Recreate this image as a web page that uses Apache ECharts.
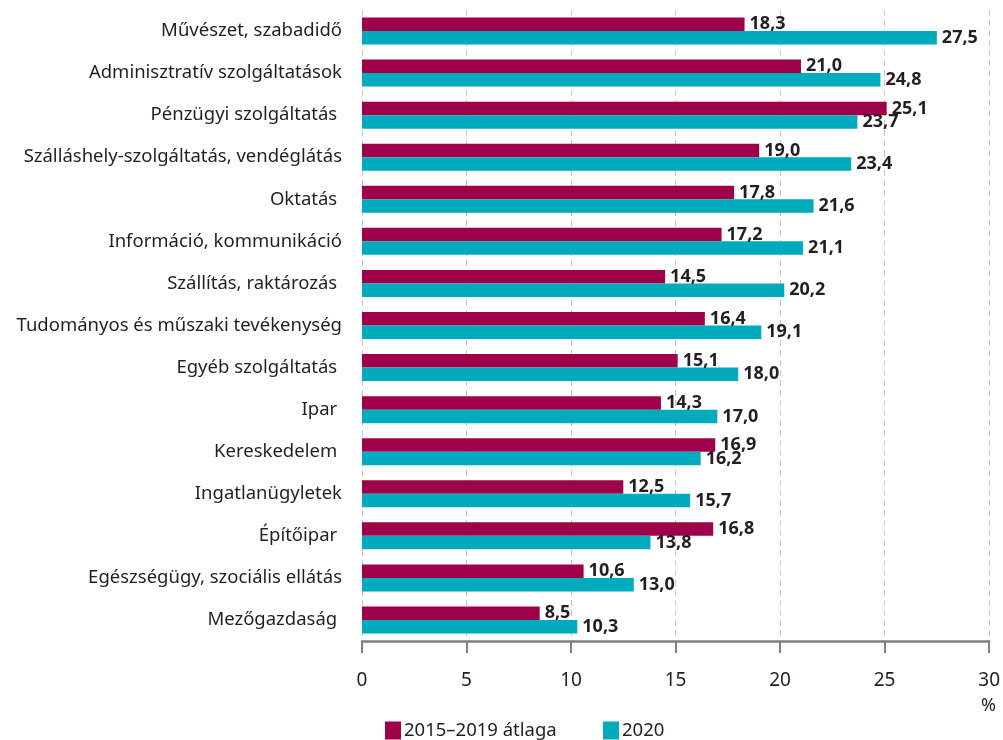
<!DOCTYPE html>
<html>
<head>
<meta charset="utf-8">
<script src="https://cdn.jsdelivr.net/npm/echarts@6/dist/echarts.min.js"></script>
<style>
  html, body { margin: 0; padding: 0; background: #fff; }
  #chart { width: 1003px; height: 740px; }
</style>
</head>
<body>
<div id="chart"></div>
<script>
var categories = [
  "Művészet, szabadidő",
  "Adminisztratív szolgáltatások",
  "Pénzügyi szolgáltatás ",
  "Szálláshely-szolgáltatás, vendéglátás",
  "Oktatás ",
  "Információ, kommunikáció",
  "Szállítás, raktározás ",
  "Tudományos és műszaki tevékenység",
  "Egyéb szolgáltatás ",
  "Ipar ",
  "Kereskedelem ",
  "Ingatlanügyletek",
  "Építőipar ",
  "Egészségügy, szociális ellátás",
  "Mezőgazdaság "
];
var avg2015_2019 = [18.3, 21.0, 25.1, 19.0, 17.8, 17.2, 14.5, 16.4, 15.1, 14.3, 16.9, 12.5, 16.8, 10.6, 8.5];
var year2020 = [27.5, 24.8, 23.7, 23.4, 21.6, 21.1, 20.2, 19.1, 18.0, 17.0, 16.2, 15.7, 13.8, 13.0, 10.3];
var seriesNames = ["2015–2019 átlaga", "2020"];

var font = "Noto Sans";

function fmt(p) {
  return p.value.toFixed(1).replace(".", ",");
}

window.onload = function () {
  var myChart = echarts.init(document.getElementById("chart"));
  var label = {
    show: true,
    position: "right",
    distance: 5,
    formatter: fmt,
    fontFamily: font,
    fontSize: 18,
    fontWeight: "bold",
    color: "#231f20"
  };
  var legendText = { fontFamily: font, fontSize: 18.5, color: "#231f20", padding: [0, 0, 0, -2] };
  myChart.setOption({
    animation: false,
    textStyle: { fontFamily: font },
    grid: { left: 362, right: 11, top: 10, bottom: 99, containLabel: false },
    legend: [{
      left: 380,
      top: 716,
      itemWidth: 16,
      itemHeight: 18,
      icon: "rect",
      textStyle: legendText,
      data: [seriesNames[0]]
    }, {
      left: 598,
      top: 716,
      itemWidth: 16,
      itemHeight: 18,
      icon: "rect",
      textStyle: legendText,
      data: [seriesNames[1]]
    }],
    xAxis: {
      type: "value",
      min: 0,
      max: 30,
      interval: 5,
      axisLine: { show: true, lineStyle: { color: "#808080", width: 2.5 } },
      axisTick: { show: true, length: 12, lineStyle: { color: "#808080", width: 2 } },
      axisLabel: { margin: 30, fontFamily: font, fontSize: 19, color: "#231f20" },
      splitLine: { show: true, lineStyle: { color: "#c8c8c8", type: [6, 4], width: 1 } }
    },
    yAxis: {
      type: "category",
      data: categories,
      inverse: true,
      axisLine: { show: false },
      axisTick: { show: false },
      axisLabel: { margin: 20, fontFamily: font, fontSize: 18.5, color: "#231f20" }
    },
    graphic: [{
      type: "text",
      left: 981,
      top: 697,
      style: { text: "%", fontFamily: font, fontSize: 18, fill: "#231f20" }
    }],
    series: [
      {
        name: seriesNames[0],
        type: "bar",
        data: avg2015_2019,
        barWidth: 13.5,
        barGap: "0%",
        itemStyle: { color: "#9e004a" },
        label: label
      },
      {
        name: seriesNames[1],
        type: "bar",
        data: year2020,
        barWidth: 13.5,
        barGap: "0%",
        itemStyle: { color: "#00abbd" },
        label: label
      }
    ]
  });
  window.addEventListener("resize", function () { myChart.resize(); }, false);
};
</script>
</body>
</html>
